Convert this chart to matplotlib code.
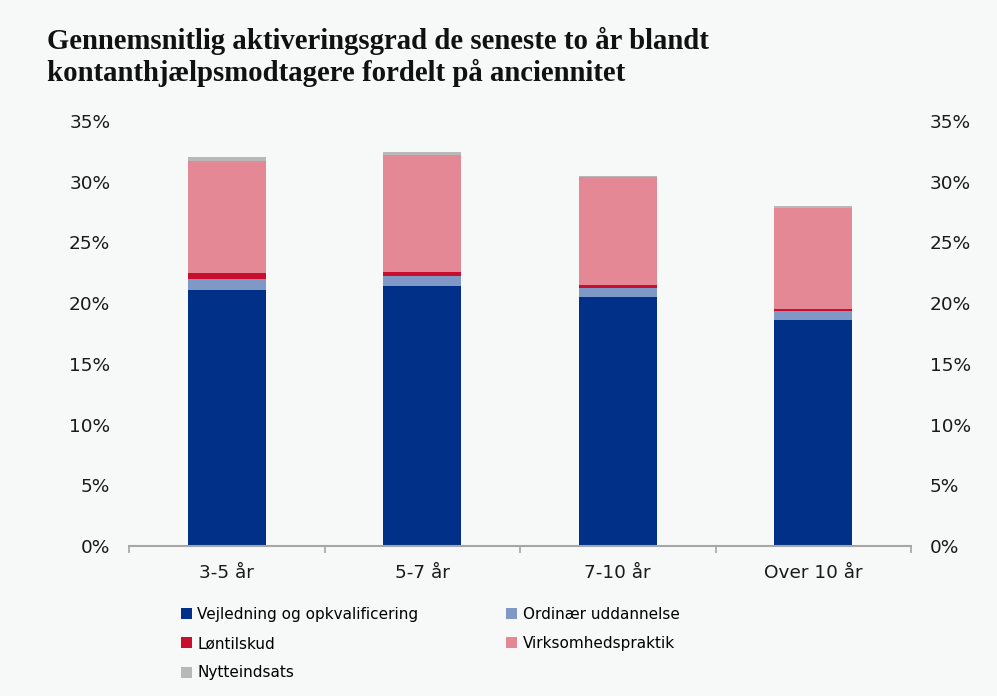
import matplotlib
matplotlib.use("Agg")
import matplotlib.pyplot as plt
import numpy as np
from matplotlib.patches import Patch

categories = ["3-5 år", "5-7 år", "7-10 år", "Over 10 år"]
vejledning = [21.1, 21.45, 20.5, 18.6]
ordinaer = [0.9, 0.75, 0.75, 0.75]
loentilskud = [0.5, 0.4, 0.25, 0.15]
virksomhed = [9.2, 9.6, 8.9, 8.35]
nytte = [0.35, 0.25, 0.1, 0.15]

series_names = ["Vejledning og opkvalificering", "Ordinær uddannelse", "Løntilskud",
                "Virksomhedspraktik", "Nytteindsats"]
series_vals = [vejledning, ordinaer, loentilskud, virksomhed, nytte]
colors = ["#003087", "#7f98c6", "#c8102e", "#e48896", "#b8b8b8"]
yticks = [0, 5, 10, 15, 20, 25, 30, 35]

bg = "#f7f9f9"
fig = plt.figure(figsize=(9.97, 6.96), dpi=100, facecolor=bg)
ax = fig.add_axes([129/997, 1-546/696, 782/997, (546-121)/696])
ax.set_facecolor(bg)

x = np.arange(len(categories))
bottom = np.zeros(len(categories))
for name, vals, c in zip(series_names, series_vals, colors):
    ax.bar(x, vals, width=0.4, bottom=bottom, color=c, label=name, zorder=2)
    bottom += np.array(vals)

ax.set_xlim(-0.5, len(categories) - 0.5)
ax.set_ylim(0, 35)
ax.set_yticks(yticks)
ax.set_yticklabels([f"{v}%" for v in yticks])
ax.set_xticks(x)
ax.set_xticklabels(categories)
ax.set_xticks(np.arange(-0.5, len(categories)), minor=True)
ax.tick_params(axis="x", which="major", length=0, pad=13, labelsize=13.3, colors="#1a1a1a")
ax.tick_params(axis="x", which="minor", length=5, width=1.2, color="#a6a6a6")
ax.tick_params(axis="y", which="both", length=0, pad=13.5, labelsize=13.3,
               labelleft=True, labelright=True, colors="#1a1a1a")
for s in ["top", "left", "right"]:
    ax.spines[s].set_visible(False)
ax.spines["bottom"].set_color("#a6a6a6")
ax.spines["bottom"].set_linewidth(1.5)

fig.text(47/997, 1-41/696, "Gennemsnitlig aktiveringsgrad de seneste to år blandt",
         family="Liberation Serif", weight="bold", fontsize=20.7, va="center", ha="left", color="#111111")
fig.text(47/997, 1-73/696, "kontanthjælpsmodtagere fordelt på anciennitet",
         family="Liberation Serif", weight="bold", fontsize=20.7, va="center", ha="left", color="#111111")

# legend filled row-wise: reorder for matplotlib's column-major fill
order = [0, 2, 4, 1, 3]
handles = [Patch(facecolor=colors[i], edgecolor="none") for i in order]
labels = [series_names[i] for i in order]
leg = fig.legend(handles, labels, ncol=2, loc="upper left",
                 bbox_to_anchor=(181/997, 1-607/696), frameon=False,
                 fontsize=11, handlelength=0.72, handleheight=0.72, handletextpad=0.35,
                 columnspacing=5.75, labelspacing=0.93, borderpad=0, borderaxespad=0)

fig.savefig("out.png", dpi=100, facecolor=bg)
